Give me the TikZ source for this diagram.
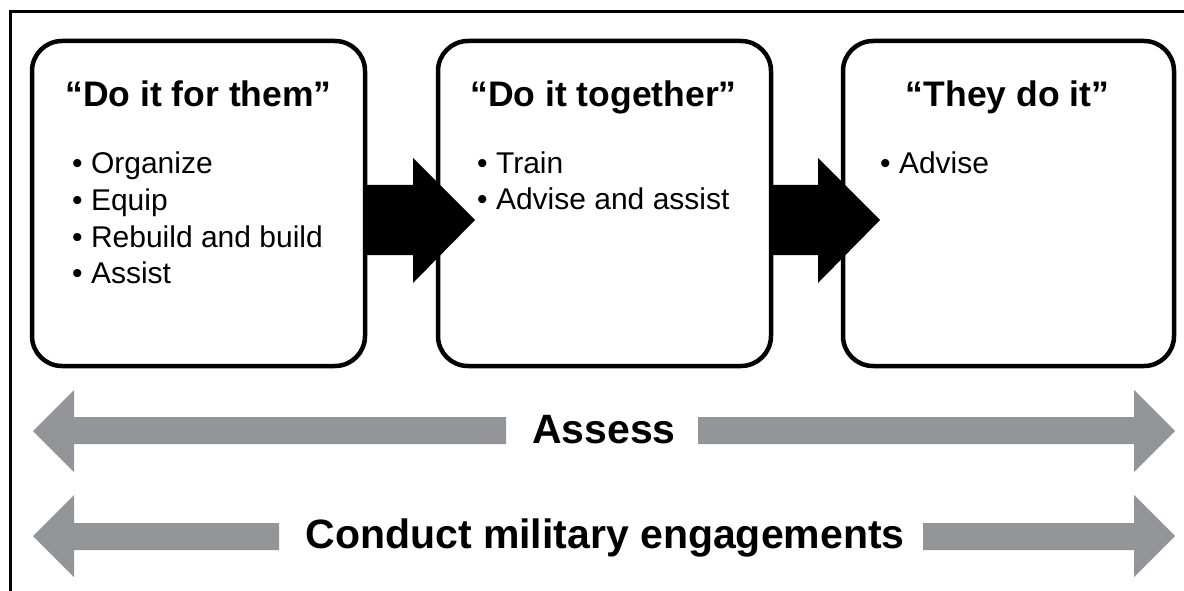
\documentclass[tikz,border=0pt]{standalone}
\usepackage{fontspec}
\setmainfont{Liberation Sans}
\usetikzlibrary{calc}
\definecolor{arrowgray}{RGB}{147,149,152}
\begin{document}
\begin{tikzpicture}[x=1pt,y=-1pt,
  box/.style={draw=black, line width=4.5pt, rounded corners=30pt, minimum height=325pt, inner sep=0pt},
  boxtitle/.style={anchor=base, font=\fontsize{35.5}{42}\bfseries, inner sep=0pt},
  item/.style={anchor=base west, font=\fontsize{30}{36}\selectfont, inner sep=0pt},
  band/.style={fill=arrowgray},
  bandtext/.style={anchor=base, font=\fontsize{41}{48}\bfseries, inner sep=0pt},
  block/.style={fill=black}]
\useasboundingbox (0,0) rectangle (1184,591);
\fill[white] (0,0) rectangle (1184,591);
% outer frame (cropped)
\draw[line width=3pt] (10,591) -- (10,12) -- (1184,12);

% boxes
\node[box, minimum width=333pt] (b1) at (198.5,203.5) {};
\node[box, minimum width=333pt] (b2) at (604.5,203.5) {};
\node[box, minimum width=331pt] (b3) at (1008.5,203.5) {};

% titles
\node[boxtitle] (t1) at (198.5,107) {“Do it for them”};
\node[boxtitle] (t2) at (603.5,107) {“Do it together”};
\node[boxtitle] (t3) at (1007.5,107) {“They do it”};

% items
\node[item] (i11) at (72,174) {• Organize};
\node[item] (i12) at (72,210.5) {• Equip};
\node[item] (i13) at (72,247) {• Rebuild and build};
\node[item] (i14) at (72,283.5) {• Assist};
\node[item] (i21) at (477,173.5) {• Train};
\node[item] (i22) at (477,210) {• Advise and assist};
\node[item] (i31) at (880,173.5) {• Advise};

% black block arrows between boxes
\fill[block] ($(b1.east)+(-2,-18.5)$) -- (413,185) -- (413,158) -- (475,220) -- (413,283) -- (413,255) -- ($(b1.east)+(-2,51.5)$) -- cycle;
\fill[block] ($(b2.east)+(-2,-18.5)$) -- (818,185) -- (818,158) -- (880,220) -- (818,283) -- (818,255) -- ($(b2.east)+(-2,51.5)$) -- cycle;

% Assess band
\node[bandtext] (assess) at (604,443) {Assess};
\fill[band] (33,431) -- (74,390) -- (74,417) -- (506,417) -- (506,444) -- (74,444) -- (74,472) -- cycle;
\fill[band] (698,417) -- (1134,417) -- (1134,390) -- (1175,431) -- (1134,472) -- (1134,444) -- (698,444) -- cycle;

% Conduct band
\node[bandtext] (conduct) at (605,548) {Conduct military engagements};
\fill[band] (33,536) -- (74,495) -- (74,523) -- (279,523) -- (279,550) -- (74,550) -- (74,577) -- cycle;
\fill[band] (923,523) -- (1134,523) -- (1134,495) -- (1175,536) -- (1134,577) -- (1134,550) -- (923,550) -- cycle;
\end{tikzpicture}
\end{document}
